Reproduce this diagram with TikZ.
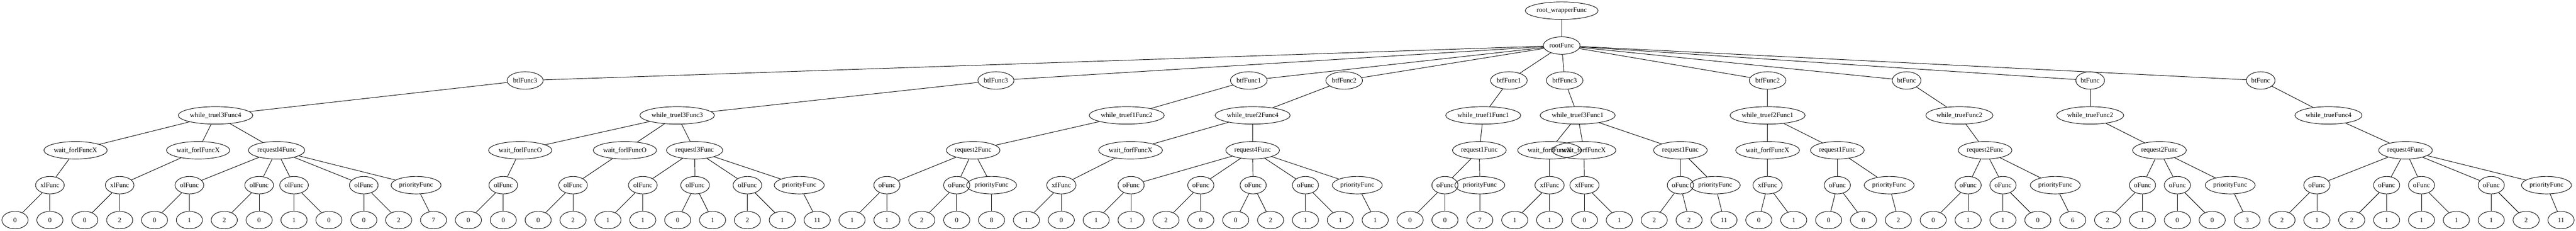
\documentclass[tikz,border=0pt]{standalone}
\usepackage{fontspec}
\setmainfont{Liberation Serif}
\usetikzlibrary{shapes.geometric}
\tikzset{fn/.style={draw,ellipse,minimum width=54bp,minimum height=36bp,inner sep=1.5bp,
  font=\fontsize{14bp}{16bp}\selectfont}}
\begin{document}
\begin{tikzpicture}[>=latex,line join=bevel,]
  \pgfsetlinewidth{1bp}
  \useasboundingbox (0bp,0bp) rectangle (5318bp,476bp);
%%
  % Node: wrapper, root
  \node[fn] (wrapper) at (3224bp,454bp) {root\_wrapperFunc};
  \node[fn] (root) at (3224bp,382bp) {rootFunc};
  % Node: bt level
  \node[fn] (bt1) at (1084bp,310bp) {btlFunc3};
  \node[fn] (bt2) at (2056bp,310bp) {btlFunc3};
  \node[fn] (bt3) at (2578bp,310bp) {btfFunc1};
  \node[fn] (bt4) at (2775bp,310bp) {btfFunc2};
  \node[fn] (bt5) at (3115bp,310bp) {btfFunc1};
  \node[fn] (bt6) at (3230bp,310bp) {btfFunc3};
  \node[fn] (bt7) at (3649bp,310bp) {btfFunc2};
  \node[fn] (bt8) at (3936bp,310bp) {btFunc};
  \node[fn] (bt9) at (4315bp,310bp) {btFunc};
  \node[fn] (bt10) at (4667bp,310bp) {btFunc};
  % Node: while level
  \node[fn] (wt1) at (445bp,238bp) {while\_truel3Func4};
  \node[fn] (wt2) at (1398bp,238bp) {while\_truel3Func3};
  \node[fn] (wt3) at (2326bp,238bp) {while\_truef1Func2};
  \node[fn] (wt4) at (2586bp,238bp) {while\_truef2Func4};
  \node[fn] (wt5) at (3062bp,238bp) {while\_truef1Func1};
  \node[fn] (wt6) at (3257bp,238bp) {while\_truef3Func1};
  \node[fn] (wt7) at (3649bp,238bp) {while\_truef2Func1};
  \node[fn] (wt8) at (4045bp,238bp) {while\_trueFunc2};
  \node[fn] (wt9) at (4315bp,238bp) {while\_trueFunc2};
  \node[fn] (wt10) at (4807bp,238bp) {while\_trueFunc4};
  % Node: wait / request level
  \node[fn] (wf1) at (156bp,166bp) {wait\_forlFuncX};
  \node[fn] (wf2) at (409bp,166bp) {wait\_forlFuncX};
  \node[fn] (rq1) at (571bp,166bp) {requestl4Func};
  \node[fn] (wf3) at (1074bp,166bp) {wait\_forlFuncO};
  \node[fn] (wf4) at (1290bp,166bp) {wait\_forlFuncO};
  \node[fn] (rq2) at (1434bp,166bp) {requestl3Func};
  \node[fn] (rq3) at (2009bp,166bp) {request2Func};
  \node[fn] (wf5) at (2334bp,166bp) {wait\_forfFuncX};
  \node[fn] (rq4) at (2586bp,166bp) {request4Func};
  \node[fn] (rq5) at (3054bp,166bp) {request1Func};
  \node[fn] (wf6) at (3199bp,166bp) {wait\_forfFuncX};
  \node[fn] (wf7) at (3270bp,166bp) {wait\_forfFuncX};
  \node[fn] (rq6) at (3469bp,166bp) {request1Func};
  \node[fn] (wf8) at (3649bp,166bp) {wait\_forfFuncX};
  \node[fn] (rq7) at (3793bp,166bp) {request1Func};
  \node[fn] (rq8) at (4098bp,166bp) {request2Func};
  \node[fn] (rq9) at (4458bp,166bp) {request2Func};
  \node[fn] (rq10) at (4966bp,166bp) {request4Func};
  % Node: op level
  \node[fn] (a1) at (103bp,94bp) {xlFunc};
  \node[fn] (a2) at (247bp,94bp) {xlFunc};
  \node[fn] (a3) at (391bp,94bp) {olFunc};
  \node[fn] (a4) at (535bp,94bp) {olFunc};
  \node[fn] (a5) at (607bp,94bp) {olFunc};
  \node[fn] (a6) at (751bp,94bp) {olFunc};
  \node[fn] (a7) at (859bp,94bp) {priorityFunc};
  \node[fn] (b1) at (1039bp,94bp) {olFunc};
  \node[fn] (b2) at (1183bp,94bp) {olFunc};
  \node[fn] (b3) at (1327bp,94bp) {olFunc};
  \node[fn] (b4) at (1435bp,94bp) {olFunc};
  \node[fn] (b5) at (1543bp,94bp) {olFunc};
  \node[fn] (b6) at (1650bp,94bp) {priorityFunc};
  \node[fn] (c1) at (1831bp,94bp) {oFunc};
  \node[fn] (c2) at (1975bp,94bp) {oFunc};
  \node[fn] (c3) at (2047bp,94bp) {priorityFunc};
  \node[fn] (c4) at (2191bp,94bp) {xfFunc};
  \node[fn] (c5) at (2335bp,94bp) {oFunc};
  \node[fn] (c6) at (2479bp,94bp) {oFunc};
  \node[fn] (c7) at (2587bp,94bp) {oFunc};
  \node[fn] (c8) at (2695bp,94bp) {oFunc};
  \node[fn] (c9) at (2802bp,94bp) {priorityFunc};
  \node[fn] (d1) at (2983bp,94bp) {oFunc};
  \node[fn] (d2) at (3055bp,94bp) {priorityFunc};
  \node[fn] (d3) at (3199bp,94bp) {xfFunc};
  \node[fn] (d4) at (3271bp,94bp) {xfFunc};
  \node[fn] (d5) at (3469bp,94bp) {oFunc};
  \node[fn] (d6) at (3541bp,94bp) {priorityFunc};
  \node[fn] (e1) at (3649bp,94bp) {xfFunc};
  \node[fn] (e2) at (3793bp,94bp) {oFunc};
  \node[fn] (e3) at (3900bp,94bp) {priorityFunc};
  \node[fn] (e4) at (4063bp,94bp) {oFunc};
  \node[fn] (e5) at (4135bp,94bp) {oFunc};
  \node[fn] (e6) at (4243bp,94bp) {priorityFunc};
  \node[fn] (e7) at (4423bp,94bp) {oFunc};
  \node[fn] (e8) at (4495bp,94bp) {oFunc};
  \node[fn] (e9) at (4604bp,94bp) {priorityFunc};
  \node[fn] (f1) at (4783bp,94bp) {oFunc};
  \node[fn] (f2) at (4927bp,94bp) {oFunc};
  \node[fn] (f3) at (4999bp,94bp) {oFunc};
  \node[fn] (f4) at (5143bp,94bp) {oFunc};
  \node[fn] (f5) at (5257bp,94bp) {priorityFunc};
  % Node: values
  \node[fn] (n0) at (31bp,22bp) {0};   \node[fn] (n1) at (103bp,22bp) {0};
  \node[fn] (n2) at (175bp,22bp) {0};  \node[fn] (n3) at (247bp,22bp) {2};
  \node[fn] (n4) at (319bp,22bp) {0};  \node[fn] (n5) at (391bp,22bp) {1};
  \node[fn] (n6) at (463bp,22bp) {2};  \node[fn] (n7) at (535bp,22bp) {0};
  \node[fn] (n8) at (607bp,22bp) {1};  \node[fn] (n9) at (679bp,22bp) {0};
  \node[fn] (n10) at (751bp,22bp) {0}; \node[fn] (n11) at (823bp,22bp) {2};
  \node[fn] (n12) at (895bp,22bp) {7};
  \node[fn] (n13) at (967bp,22bp) {0};  \node[fn] (n14) at (1039bp,22bp) {0};
  \node[fn] (n15) at (1111bp,22bp) {0}; \node[fn] (n16) at (1183bp,22bp) {2};
  \node[fn] (n17) at (1255bp,22bp) {1}; \node[fn] (n18) at (1327bp,22bp) {1};
  \node[fn] (n19) at (1399bp,22bp) {0}; \node[fn] (n20) at (1471bp,22bp) {1};
  \node[fn] (n21) at (1543bp,22bp) {2}; \node[fn] (n22) at (1615bp,22bp) {1};
  \node[fn] (n23) at (1687bp,22bp) {11};
  \node[fn] (n24) at (1759bp,22bp) {1}; \node[fn] (n25) at (1831bp,22bp) {1};
  \node[fn] (n26) at (1903bp,22bp) {2}; \node[fn] (n27) at (1975bp,22bp) {0};
  \node[fn] (n28) at (2047bp,22bp) {8};
  \node[fn] (n29) at (2119bp,22bp) {1}; \node[fn] (n30) at (2191bp,22bp) {0};
  \node[fn] (n31) at (2263bp,22bp) {1}; \node[fn] (n32) at (2335bp,22bp) {1};
  \node[fn] (n33) at (2407bp,22bp) {2}; \node[fn] (n34) at (2479bp,22bp) {0};
  \node[fn] (n35) at (2551bp,22bp) {0}; \node[fn] (n36) at (2623bp,22bp) {2};
  \node[fn] (n37) at (2695bp,22bp) {1}; \node[fn] (n38) at (2767bp,22bp) {1};
  \node[fn] (n39) at (2839bp,22bp) {1};
  \node[fn] (n40) at (2911bp,22bp) {0}; \node[fn] (n41) at (2983bp,22bp) {0};
  \node[fn] (n42) at (3055bp,22bp) {7};
  \node[fn] (n43) at (3127bp,22bp) {1}; \node[fn] (n44) at (3199bp,22bp) {1};
  \node[fn] (n45) at (3271bp,22bp) {0}; \node[fn] (n46) at (3343bp,22bp) {1};
  \node[fn] (n47) at (3415bp,22bp) {2}; \node[fn] (n48) at (3487bp,22bp) {2};
  \node[fn] (n49) at (3559bp,22bp) {11};
  \node[fn] (n50) at (3631bp,22bp) {0}; \node[fn] (n51) at (3703bp,22bp) {1};
  \node[fn] (n52) at (3775bp,22bp) {0}; \node[fn] (n53) at (3847bp,22bp) {0};
  \node[fn] (n54) at (3919bp,22bp) {2};
  \node[fn] (n55) at (3991bp,22bp) {0}; \node[fn] (n56) at (4063bp,22bp) {1};
  \node[fn] (n57) at (4135bp,22bp) {1}; \node[fn] (n58) at (4207bp,22bp) {0};
  \node[fn] (n59) at (4279bp,22bp) {6};
  \node[fn] (n60) at (4351bp,22bp) {2}; \node[fn] (n61) at (4423bp,22bp) {1};
  \node[fn] (n62) at (4495bp,22bp) {0}; \node[fn] (n63) at (4567bp,22bp) {0};
  \node[fn] (n64) at (4639bp,22bp) {3};
  \node[fn] (n65) at (4711bp,22bp) {2}; \node[fn] (n66) at (4783bp,22bp) {1};
  \node[fn] (n67) at (4855bp,22bp) {2}; \node[fn] (n68) at (4927bp,22bp) {1};
  \node[fn] (n69) at (4999bp,22bp) {1}; \node[fn] (n70) at (5071bp,22bp) {1};
  \node[fn] (n71) at (5143bp,22bp) {1}; \node[fn] (n72) at (5215bp,22bp) {2};
  \node[fn] (n73) at (5287bp,22bp) {11};
%%
  % Edge: wrapper -> root -> bt*
  \draw (wrapper) -- (root);
  \draw (root) -- (bt1); \draw (root) -- (bt2); \draw (root) -- (bt3); \draw (root) -- (bt4);
  \draw (root) -- (bt5); \draw (root) -- (bt6); \draw (root) -- (bt7); \draw (root) -- (bt8);
  \draw (root) -- (bt9); \draw (root) -- (bt10);
  % Edge: bt* -> wt*
  \draw (bt1) -- (wt1); \draw (bt2) -- (wt2); \draw (bt3) -- (wt3); \draw (bt4) -- (wt4);
  \draw (bt5) -- (wt5); \draw (bt6) -- (wt6); \draw (bt7) -- (wt7); \draw (bt8) -- (wt8);
  \draw (bt9) -- (wt9); \draw (bt10) -- (wt10);
  % Edge: wt* -> wait / request
  \draw (wt1) -- (wf1); \draw (wt1) -- (wf2); \draw (wt1) -- (rq1);
  \draw (wt2) -- (wf3); \draw (wt2) -- (wf4); \draw (wt2) -- (rq2);
  \draw (wt3) -- (rq3);
  \draw (wt4) -- (wf5); \draw (wt4) -- (rq4);
  \draw (wt5) -- (rq5);
  \draw (wt6) -- (wf6); \draw (wt6) -- (wf7); \draw (wt6) -- (rq6);
  \draw (wt7) -- (wf8); \draw (wt7) -- (rq7);
  \draw (wt8) -- (rq8); \draw (wt9) -- (rq9); \draw (wt10) -- (rq10);
  % Edge: wait / request -> ops
  \draw (wf1) -- (a1); \draw (wf2) -- (a2);
  \draw (rq1) -- (a3); \draw (rq1) -- (a4); \draw (rq1) -- (a5); \draw (rq1) -- (a6); \draw (rq1) -- (a7);
  \draw (wf3) -- (b1); \draw (wf4) -- (b2);
  \draw (rq2) -- (b3); \draw (rq2) -- (b4); \draw (rq2) -- (b5); \draw (rq2) -- (b6);
  \draw (rq3) -- (c1); \draw (rq3) -- (c2); \draw (rq3) -- (c3);
  \draw (wf5) -- (c4);
  \draw (rq4) -- (c5); \draw (rq4) -- (c6); \draw (rq4) -- (c7); \draw (rq4) -- (c8); \draw (rq4) -- (c9);
  \draw (rq5) -- (d1); \draw (rq5) -- (d2);
  \draw (wf6) -- (d3); \draw (wf7) -- (d4);
  \draw (rq6) -- (d5); \draw (rq6) -- (d6);
  \draw (wf8) -- (e1);
  \draw (rq7) -- (e2); \draw (rq7) -- (e3);
  \draw (rq8) -- (e4); \draw (rq8) -- (e5); \draw (rq8) -- (e6);
  \draw (rq9) -- (e7); \draw (rq9) -- (e8); \draw (rq9) -- (e9);
  \draw (rq10) -- (f1); \draw (rq10) -- (f2); \draw (rq10) -- (f3); \draw (rq10) -- (f4); \draw (rq10) -- (f5);
  % Edge: ops -> values
  \draw (a1) -- (n0); \draw (a1) -- (n1); \draw (a2) -- (n2); \draw (a2) -- (n3);
  \draw (a3) -- (n4); \draw (a3) -- (n5); \draw (a4) -- (n6); \draw (a4) -- (n7);
  \draw (a5) -- (n8); \draw (a5) -- (n9); \draw (a6) -- (n10); \draw (a6) -- (n11);
  \draw (a7) -- (n12);
  \draw (b1) -- (n13); \draw (b1) -- (n14); \draw (b2) -- (n15); \draw (b2) -- (n16);
  \draw (b3) -- (n17); \draw (b3) -- (n18); \draw (b4) -- (n19); \draw (b4) -- (n20);
  \draw (b5) -- (n21); \draw (b5) -- (n22); \draw (b6) -- (n23);
  \draw (c1) -- (n24); \draw (c1) -- (n25); \draw (c2) -- (n26); \draw (c2) -- (n27);
  \draw (c3) -- (n28); \draw (c4) -- (n29); \draw (c4) -- (n30);
  \draw (c5) -- (n31); \draw (c5) -- (n32); \draw (c6) -- (n33); \draw (c6) -- (n34);
  \draw (c7) -- (n35); \draw (c7) -- (n36); \draw (c8) -- (n37); \draw (c8) -- (n38);
  \draw (c9) -- (n39);
  \draw (d1) -- (n40); \draw (d1) -- (n41); \draw (d2) -- (n42);
  \draw (d3) -- (n43); \draw (d3) -- (n44); \draw (d4) -- (n45); \draw (d4) -- (n46);
  \draw (d5) -- (n47); \draw (d5) -- (n48); \draw (d6) -- (n49);
  \draw (e1) -- (n50); \draw (e1) -- (n51); \draw (e2) -- (n52); \draw (e2) -- (n53);
  \draw (e3) -- (n54); \draw (e4) -- (n55); \draw (e4) -- (n56); \draw (e5) -- (n57);
  \draw (e5) -- (n58); \draw (e6) -- (n59); \draw (e7) -- (n60); \draw (e7) -- (n61);
  \draw (e8) -- (n62); \draw (e8) -- (n63); \draw (e9) -- (n64);
  \draw (f1) -- (n65); \draw (f1) -- (n66); \draw (f2) -- (n67); \draw (f2) -- (n68);
  \draw (f3) -- (n69); \draw (f3) -- (n70); \draw (f4) -- (n71); \draw (f4) -- (n72);
  \draw (f5) -- (n73);
%
\end{tikzpicture}
\end{document}
